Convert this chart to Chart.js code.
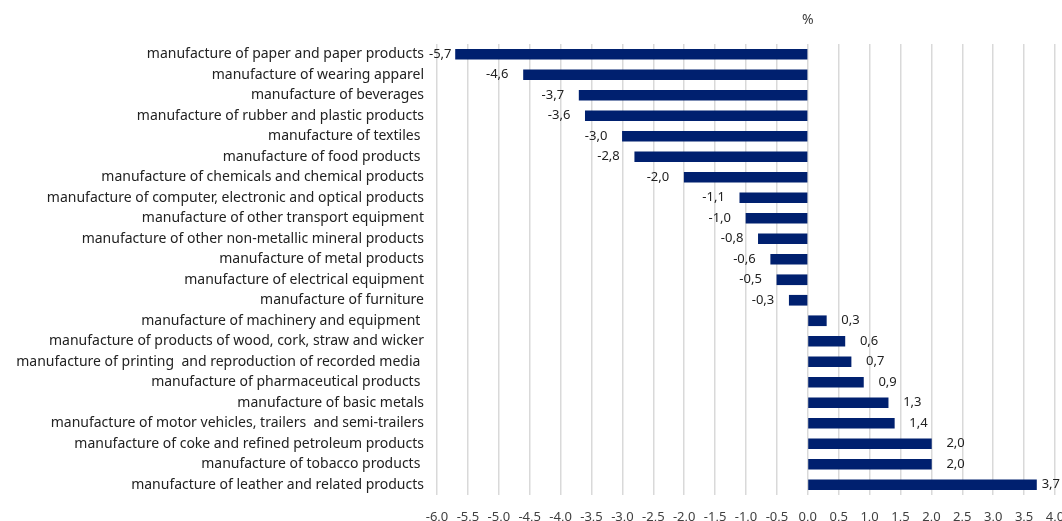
<!DOCTYPE html>
<html>
<head>
<meta charset="utf-8">
<script src="https://cdn.jsdelivr.net/npm/chart.js@4/dist/chart.umd.min.js"></script>
<style>
    body { margin: 0; background: #fff; }
    #wrap { width: 1062px; height: 521px; position: relative; }
</style>
</head>
<body>
<div id="wrap"><canvas id="industryChart"></canvas></div>
<script>
const industries = [
    'manufacture of paper and paper products',
    'manufacture of wearing apparel',
    'manufacture of beverages',
    'manufacture of rubber and plastic products',
    'manufacture of textiles ',
    'manufacture of food products ',
    'manufacture of chemicals and chemical products',
    'manufacture of computer, electronic and optical products',
    'manufacture of other transport equipment',
    'manufacture of other non-metallic mineral products',
    'manufacture of metal products',
    'manufacture of electrical equipment',
    'manufacture of furniture',
    'manufacture of machinery and equipment ',
    'manufacture of products of wood, cork, straw and wicker',
    'manufacture of printing  and reproduction of recorded media ',
    'manufacture of pharmaceutical products ',
    'manufacture of basic metals',
    'manufacture of motor vehicles, trailers  and semi-trailers',
    'manufacture of coke and refined petroleum products',
    'manufacture of tobacco products ',
    'manufacture of leather and related products'
];
const changes = [-5.7, -4.6, -3.7, -3.6, -3.0, -2.8, -2.0, -1.1, -1.0, -0.8, -0.6, -0.5, -0.3,
    0.3, 0.6, 0.7, 0.9, 1.3, 1.4, 2.0, 2.0, 3.7];
const axisMin = -6;
const axisMax = 4;
const axisStep = 0.5;
const unitLabel = '%';

const fontFamily = '"Noto Sans", sans-serif';
const fmt = v => Number(v).toFixed(1).replace('.', ',');

// value labels next to bar ends, plus the "%" unit on top
const barLabels = {
    id: 'barLabels',
    afterDatasetsDraw(chart) {
        const ctx = chart.ctx;
        const area = chart.chartArea;
        const meta = chart.getDatasetMeta(0);
        ctx.save();
        ctx.font = '13px ' + fontFamily;
        ctx.fillStyle = '#222';
        ctx.textBaseline = 'middle';
        meta.data.forEach((bar, i) => {
            const v = changes[i];
            const txt = fmt(v);
            const w = ctx.measureText(txt).width;
            let left;
            if (v < 0) {
                let right = bar.x - 15;
                if (right - w < area.left - 8) right = area.left - 8 + w;
                left = right - w;
            } else {
                left = bar.x + 15;
                if (left + w > chart.width - 2) left = chart.width - 2 - w;
            }
            ctx.textAlign = 'left';
            ctx.fillText(txt, left, bar.y);
        });
        ctx.font = '14px ' + fontFamily;
        ctx.fillStyle = '#404040';
        ctx.textAlign = 'center';
        ctx.fillText(unitLabel, chart.scales.x.getPixelForValue(0), 20);
        ctx.restore();
    }
};

new Chart(document.getElementById('industryChart').getContext('2d'), {
    type: 'bar',
    data: {
        labels: industries,
        datasets: [{
            data: changes,
            backgroundColor: '#00206f',
            borderWidth: 0,
            barThickness: 10
        }]
    },
    options: {
        indexAxis: 'y',
        responsive: true,
        maintainAspectRatio: false,
        animation: false,
        layout: { padding: { top: 44 } },
        plugins: {
            legend: { display: false },
            tooltip: { enabled: false }
        },
        scales: {
            x: {
                min: axisMin,
                max: axisMax,
                grid: { color: '#d9d9d9', lineWidth: 1.5, drawTicks: false },
                border: { display: false },
                ticks: {
                    stepSize: axisStep,
                    padding: 14,
                    autoSkip: false,
                    maxRotation: 0,
                    color: '#404040',
                    font: { family: fontFamily, size: 13 },
                    callback: v => fmt(v)
                },
                afterFit(scale) {
                    scale.height = 26;
                    scale.paddingLeft = 0;
                    scale.paddingRight = 7;
                }
            },
            y: {
                grid: { display: false, drawTicks: false },
                border: { display: false },
                ticks: {
                    padding: 13,
                    color: '#222',
                    autoSkip: false,
                    font: { family: fontFamily, size: 14 }
                },
                afterFit(scale) {
                    scale.width = 437;
                }
            }
        }
    },
    plugins: [barLabels]
});
</script>
</body>
</html>
